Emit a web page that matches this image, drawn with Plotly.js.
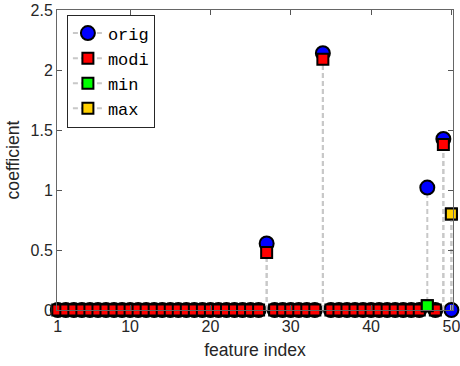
<!DOCTYPE html>
<html>
<head>
<meta charset="utf-8">
<script src="https://cdn.plot.ly/plotly-3.0.1.min.js"></script>
<style>html,body{margin:0;padding:0;background:#fff;}#chart{width:460px;height:366px;}</style>
</head>
<body>
<div id="chart"></div>
<script>
// feature indices 1..50
var featureIndex = [1,2,3,4,5,6,7,8,9,10,11,12,13,14,15,16,17,18,19,20,21,22,23,24,25,26,27,28,29,30,31,32,33,34,35,36,37,38,39,40,41,42,43,44,45,46,47,48,49,50];
var origValues = [0,0,0,0,0,0,0,0,0,0, 0,0,0,0,0,0,0,0,0,0, 0,0,0,0,0,0,0.555,0,0,0, 0,0,0,2.14,0,0,0,0,0,0, 0,0,0,0,0,0,1.02,0,1.425,0];
var modiValues = [0,0,0,0,0,0,0,0,0,0, 0,0,0,0,0,0,0,0,0,0, 0,0,0,0,0,0,0.48,0,0,0, 0,0,0,2.09,0,0,0,0,0,0, 0,0,0,0,0,0,0.035,0,1.38,0.8];
var minIndex = [47];
var minValues = [0.035];
var maxIndex = [50];
var maxValues = [0.8];
var seriesNames = ['orig', 'modi', 'min', 'max'];
var xTicks = [1, 10, 20, 30, 40, 50];
var yTicks = [0, 0.5, 1, 1.5, 2, 2.5];

var stemColor = '#c8c8c8';
var stemDash = '5px,3px';

function stems(xs, ys) {
  var sx = [], sy = [];
  for (var i = 0; i < xs.length; i++) {
    if (ys[i] !== 0) { sx.push(xs[i], xs[i], null); sy.push(0, ys[i], null); }
  }
  return {x: sx, y: sy, type: 'scatter', mode: 'lines', showlegend: false, hoverinfo: 'skip',
          line: {color: stemColor, width: 2, dash: stemDash}, cliponaxis: false};
}
function markers(xs, ys, sym, size, color) {
  return {x: xs, y: ys, type: 'scatter', mode: 'markers', showlegend: false, cliponaxis: false,
          marker: {symbol: sym, size: size, color: color, line: {color: '#000', width: 2}}};
}
function legendItem(name, sym, size, color) {
  return {x: [null], y: [null], type: 'scatter', mode: 'lines+markers', name: name, showlegend: true,
          line: {color: stemColor, width: 2, dash: stemDash},
          marker: {symbol: sym, size: size, color: color, line: {color: '#000', width: 2}}};
}

var origColor = '#0000ff', modiColor = '#ff0000', minColor = '#00ff00', maxColor = '#ffd000';
var data = [
  stems(featureIndex, origValues),
  markers(featureIndex, origValues, 'circle', 14, origColor),
  stems(featureIndex, modiValues),
  markers(featureIndex, modiValues, 'square', 11, modiColor),
  stems(minIndex, minValues),
  markers(minIndex, minValues, 'square', 11, minColor),
  stems(maxIndex, maxValues),
  markers(maxIndex, maxValues, 'square', 11, maxColor),
  legendItem(seriesNames[0], 'circle', 14, origColor),
  legendItem(seriesNames[1], 'square', 11, modiColor),
  legendItem(seriesNames[2], 'square', 11, minColor),
  legendItem(seriesNames[3], 'square', 11, maxColor)
];

var axisFont = {family: 'Liberation Sans, Arial, sans-serif', size: 16, color: '#262626'};
var layout = {
  width: 460, height: 366,
  margin: {l: 57, r: 7, t: 10, b: 56, pad: 0},
  paper_bgcolor: '#fff', plot_bgcolor: '#fff',
  font: axisFont,
  showlegend: true,
  xaxis: {
    range: [0.9, 50.2], tickvals: xTicks, ticktext: xTicks.map(String),
    ticks: 'inside', ticklen: 5, tickwidth: 1, tickcolor: '#555',
    showline: true, linecolor: '#666', linewidth: 1, mirror: 'ticks',
    showgrid: false, zeroline: false, tickfont: axisFont, ticklabeloverflow: 'allow',
    ticklabelstandoff: 2,
    title: {text: 'feature index', font: {family: 'Liberation Sans, Arial, sans-serif', size: 17.6, color: '#262626'}, standoff: 9}
  },
  yaxis: {
    range: [0, 2.5], tickvals: yTicks, ticktext: ['0', '0.5', '1', '1.5', '2', '2.5'],
    ticks: 'inside', ticklen: 5, tickwidth: 1, tickcolor: '#555',
    showline: true, linecolor: '#666', linewidth: 1, mirror: 'ticks',
    showgrid: false, zeroline: false, tickfont: axisFont,
    title: {text: 'coefficient', font: {family: 'Liberation Sans, Arial, sans-serif', size: 17.6, color: '#262626'}, standoff: 6}
  },
  legend: {
    x: 0.025, y: 0.985, xanchor: 'left', yanchor: 'top', xref: 'paper', yref: 'paper',
    bgcolor: '#fff', bordercolor: '#262626', borderwidth: 1,
    font: {family: 'Liberation Mono, Courier New, monospace', size: 17, color: '#000'},
    itemwidth: 30, tracegroupgap: 0
  }
};
Plotly.newPlot('chart', data, layout, {staticPlot: true, displayModeBar: false});
</script>
</body>
</html>
